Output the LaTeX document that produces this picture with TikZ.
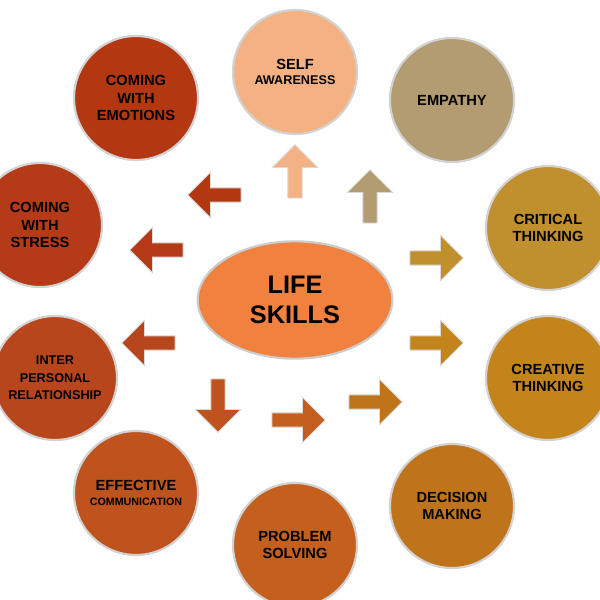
\documentclass[tikz,border=0pt]{standalone}
\usepackage{fontspec}
\setmainfont{Liberation Sans}
\usetikzlibrary{shapes.arrows,shapes.geometric}

\definecolor{cSelf}{HTML}{F4B183}
\definecolor{cEmp}{HTML}{B39B72}
\definecolor{cCrit}{HTML}{C08F2E}
\definecolor{cCrea}{HTML}{C4841C}
\definecolor{cDec}{HTML}{BF741C}
\definecolor{cProb}{HTML}{C45F1E}
\definecolor{cEff}{HTML}{BE531E}
\definecolor{cInter}{HTML}{B8461C}
\definecolor{cStr}{HTML}{B53B18}
\definecolor{cEmo}{HTML}{B33812}
\definecolor{cLife}{HTML}{F0813F}

\tikzset{
  skill/.style={circle, draw=gray!35, line width=1.6pt, minimum size=93pt, inner sep=0pt,
    align=center, font=\bfseries\fontsize{11}{13}\selectfont, fill=#1},
  blockarrow/.style={single arrow, draw=gray!30, line width=0.6pt, fill=#1,
    minimum height=40pt, minimum width=34pt, single arrow head extend=5pt, inner sep=2pt}
}

\begin{document}
\begin{tikzpicture}[x=0.75pt,y=0.75pt,yscale=-1,xscale=1]
    \useasboundingbox (0,0) rectangle (600,600);

    % Centre
    \node [ellipse, draw=gray!40, line width=1.6pt, fill=cLife, minimum width=146pt, minimum height=88pt,
      align=center, font=\bfseries\fontsize{19}{23}\selectfont] (life) at (295,300) {LIFE\\SKILLS};

    % Skills
    \node [skill=cSelf] (self) at (295,72) {SELF\\[-2pt]{\fontsize{9.5}{11}\selectfont AWARENESS}};
    \node [skill=cEmp] (empathy) at (452,100) {EMPATHY};
    \node [skill=cCrit] (critical) at (548,228) {CRITICAL\\THINKING};
    \node [skill=cCrea] (creative) at (548,378) {CREATIVE\\THINKING};
    \node [skill=cDec] (decision) at (452,506) {DECISION\\MAKING};
    \node [skill=cProb] (problem) at (295,545) {PROBLEM\\SOLVING};
    \node [skill=cEff] (effective) at (136,493) {EFFECTIVE\\[-2pt]{\fontsize{8}{10}\selectfont COMMUNICATION}};
    \node [skill=cInter] (inter) at (55,378) {\fontsize{9.5}{11}\selectfont INTER\\\fontsize{9.5}{11}\selectfont PERSONAL\\\fontsize{9.5}{11}\selectfont RELATIONSHIP};
    \node [skill=cStr] (stress) at (40,225) {COMING\\WITH\\STRESS};
    \node [skill=cEmo] (emotions) at (136,98) {COMING\\WITH\\EMOTIONS};

    % Arrows
    \node [blockarrow=cSelf, shape border rotate=90] (aSelf) at (295,175) {};
    \node [blockarrow=cEmp, shape border rotate=45] (aEmp) at (370,200) {};
    \node [blockarrow=cCrit, shape border rotate=25] (aCrit) at (433,258) {};
    \node [blockarrow=cCrea, shape border rotate=-25] (aCrea) at (433,343) {};
    \node [blockarrow=cDec, shape border rotate=-45] (aDec) at (372,402) {};
    \node [blockarrow=cProb, shape border rotate=-90] (aProb) at (295,420) {};
    \node [blockarrow=cEff, shape border rotate=-135] (aEff) at (218,402) {};
    \node [blockarrow=cInter, shape border rotate=200] (aInter) at (152,343) {};
    \node [blockarrow=cStr, shape border rotate=160] (aStr) at (160,250) {};
    \node [blockarrow=cEmo, shape border rotate=135] (aEmo) at (218,195) {};
\end{tikzpicture}
\end{document}
